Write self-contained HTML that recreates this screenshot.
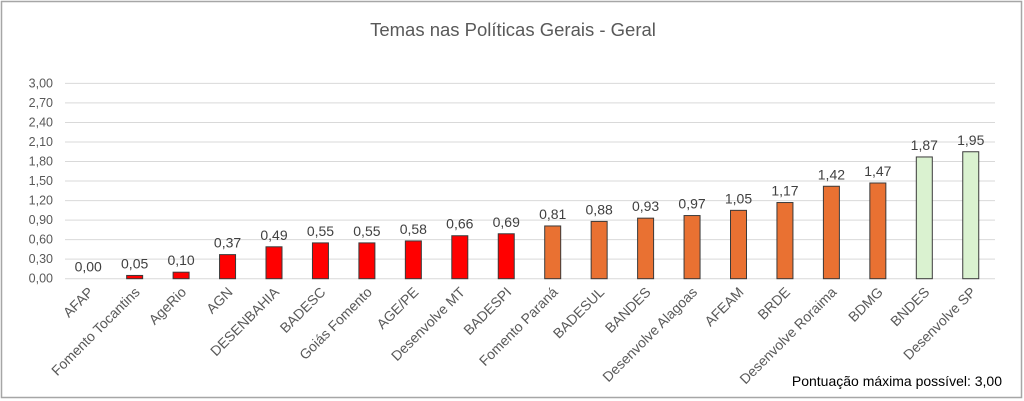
<!DOCTYPE html>
<html><head><meta charset="utf-8"><style>body{margin:0;background:#fff}svg{display:block}text{font-family:"Liberation Sans",sans-serif}</style></head>
<body>
<svg width="1024" height="401" viewBox="0 0 1024 401" xmlns="http://www.w3.org/2000/svg">
<rect x="1.5" y="1.5" width="1020" height="396" fill="#fff" stroke="#a6a6a6" stroke-width="1.5"/>
<text x="513" y="36" text-anchor="middle" font-size="18.5" fill="#595959">Temas nas Políticas Gerais - Geral</text>
<g id="grid" stroke="#d9d9d9" stroke-width="1"></g>
<g id="yl" font-size="12.5" fill="#595959" text-anchor="end"></g>
<g id="bars"></g>
<text x="1002" y="386" text-anchor="end" font-size="14" fill="#000">Pontuação máxima possível:  3,00</text>
<script>
var ns="http://www.w3.org/2000/svg";
function el(t,a,p,txt){var e=document.createElementNS(ns,t);for(var k in a)e.setAttribute(k,a[k]);if(txt!=null)e.textContent=txt;p.appendChild(e);return e;}
var y0=278.7,s=65.1;
var g=document.getElementById('grid'),yl=document.getElementById('yl'),b=document.getElementById('bars');
for(var i=0;i<=10;i++){var v=i*0.3,y=y0-v*s;el('line',{x1:65,x2:995,y1:y,y2:y},g);el('text',{x:53,y:y+4},yl,v.toFixed(2).replace('.',','));}
var d=[["AFAP",0],["Fomento Tocantins",0.05],["AgeRio",0.10],["AGN",0.37],["DESENBAHIA",0.49],["BADESC",0.55],["Goiás Fomento",0.55],["AGE/PE",0.58],["Desenvolve MT",0.66],["BADESPI",0.69],["Fomento Paraná",0.81],["BADESUL",0.88],["BANDES",0.93],["Desenvolve Alagoas",0.97],["AFEAM",1.05],["BRDE",1.17],["Desenvolve Roraima",1.42],["BDMG",1.47],["BNDES",1.87],["Desenvolve SP",1.95]];
d.forEach(function(r,i){var cx=88.2+46.45*i,h=r[1]*s,col=i<10?"#ff0000":(i<18?"#e97132":"#daf2d0");
if(h>0)el('rect',{x:cx-8,y:y0-h,width:16,height:h,fill:col,stroke:"#3a3a3a","stroke-width":1},b);
el('text',{x:cx,y:y0-h-7,"text-anchor":"middle","font-size":14,fill:"#404040"},b,r[1].toFixed(2).replace('.',','));
el('text',{transform:"translate("+(cx+6)+",293) rotate(-45)","text-anchor":"end","font-size":14,fill:"#595959"},b,r[0]);});
</script>
</svg>
</body></html>
